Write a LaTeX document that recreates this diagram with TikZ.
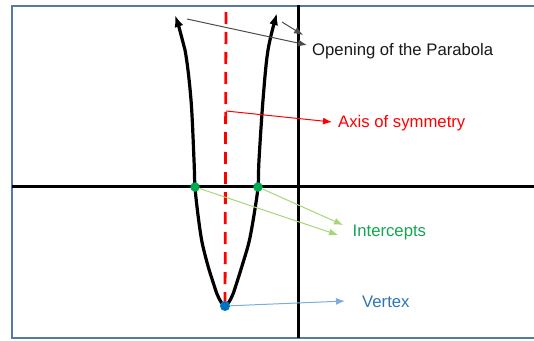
\documentclass[tikz,border=0pt]{standalone}
\usepackage{fontspec}
\setmainfont{Liberation Sans}
\usetikzlibrary{arrows.meta,positioning}
\definecolor{framec}{RGB}{84,122,165}
\definecolor{dotgreen}{RGB}{0,170,80}
\definecolor{txtgreen}{RGB}{20,165,80}
\definecolor{linegreen}{RGB}{165,215,115}
\definecolor{dotblue}{RGB}{0,112,192}
\definecolor{txtblue}{RGB}{46,117,182}
\definecolor{lineblue}{RGB}{125,172,222}
\begin{document}
\begin{tikzpicture}[x=1pt,y=-1pt,
    lbl/.style={anchor=base west,inner sep=0pt,font=\fontsize{16.7}{20}\selectfont},
    pointer/.style={line width=1pt,-{Latex[length=9pt,width=7pt]}},
    axisline/.style={line width=3pt,black},
    dot/.style={circle,inner sep=0pt,minimum size=9.5pt}]
  \useasboundingbox (0,0) rectangle (534,340);
  % frame and axes
  \draw[framec,line width=2.2pt] (534,6) -- (12,6) -- (12,338) -- (534,338);
  \draw[axisline] (12,186) -- (534,186);
  \draw[axisline] (298,5) -- (298,338);
  % points
  \coordinate (vtx) at (225,306);
  \coordinate (intL) at (195,187);
  \coordinate (intR) at (258,187);
  \coordinate (axisTop) at (226,12);
  \coordinate (axisFrom) at (226,111);
  \coordinate (openFromA) at (187,19);
  \coordinate (openFromB) at (282,22);
  \coordinate (openTipA) at (307,45);
  \coordinate (openTipB) at (303,35);
  \coordinate (axisTip) at (332,122);
  \coordinate (icptTipA) at (338,235);
  \coordinate (icptTipB) at (343,225);
  \coordinate (vtxTip) at (345,301);
  % parabola
  \draw[line width=3.2pt,{Latex[length=12pt,width=9pt]}-{Latex[length=12pt,width=9pt]}]
    plot[smooth,tension=0.55] coordinates {(175,15) (185,50) (191,100) (194,160) (intL) (198,215)
      (202,242) (208,266) (213,282) (217,294) (221,302) (vtx) (229,302) (233,294) (237,282)
      (242,266) (249,242) (254,215) (intR) (259,160) (263,100) (268,50) (277,13)};
  \draw[red,line width=2.8pt,dash pattern=on 12pt off 8pt] (axisTop) -- (vtx);
  % dots
  \node[dot,fill=dotgreen] (intLdot) at (intL) {};
  \node[dot,fill=dotgreen] (intRdot) at (intR) {};
  \node[dot,fill=dotblue,minimum size=10pt] (vtxdot) at (vtx) {};
  % pointers
  \draw[pointer,black!70] (openFromA) -- (openTipA);
  \draw[pointer,black!70] (openFromB) -- (openTipB);
  \draw[pointer,red] (axisFrom) -- (axisTip);
  \draw[pointer,linegreen] (intLdot) -- (icptTipA);
  \draw[pointer,linegreen] (intRdot) -- (icptTipB);
  \draw[pointer,lineblue] (vtxdot) -- (vtxTip);
  % labels
  \node[lbl,black!90] (openLbl) at (312,55) {Opening of the Parabola};
  \node[lbl,red] (axisLbl) at (338,127) {Axis of symmetry};
  \node[lbl,txtgreen] (icptLbl) at (352.5,236.7) {Intercepts};
  \node[lbl,txtblue] (vtxLbl) at (362,307) {Vertex};
\end{tikzpicture}
\end{document}
